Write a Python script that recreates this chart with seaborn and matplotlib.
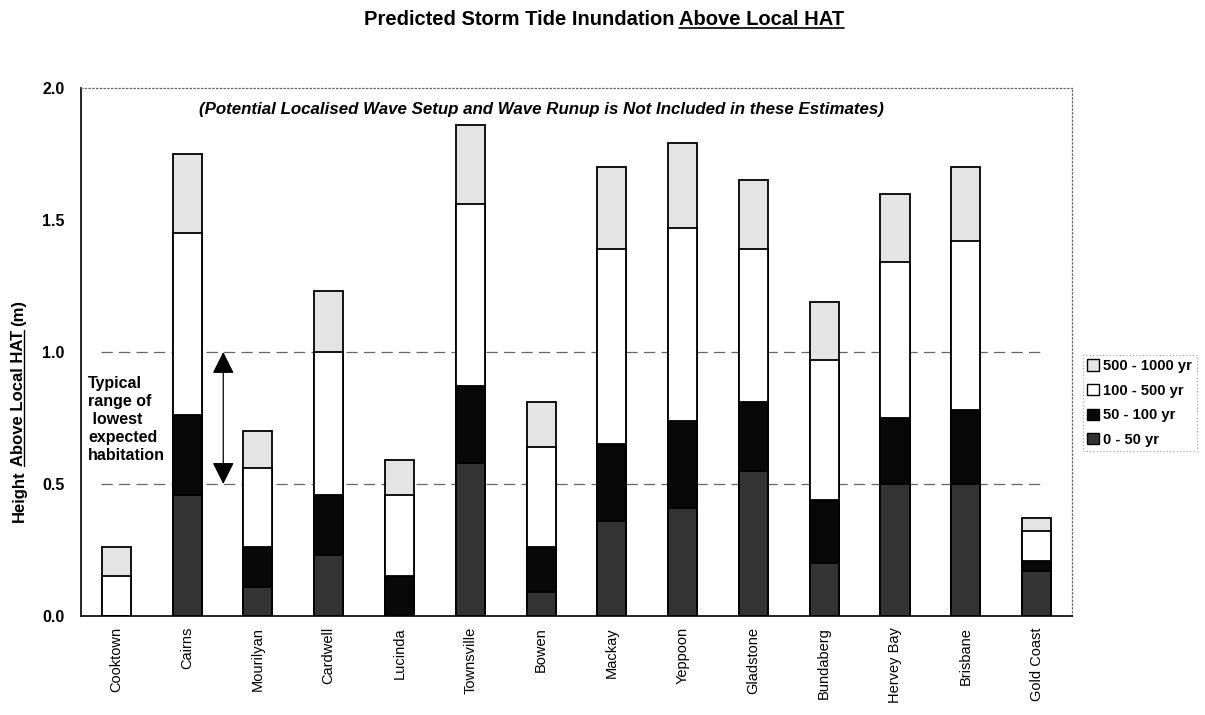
import matplotlib
matplotlib.use("Agg")
import matplotlib.pyplot as plt
import matplotlib.patches as mpatches
from matplotlib.lines import Line2D
from matplotlib.ticker import FixedLocator
import seaborn as sns

# Storm tide heights above local HAT (m) per return period
sites = ["Cooktown", "Cairns", "Mourilyan", "Cardwell", "Lucinda", "Townsville",
         "Bowen", "Mackay", "Yeppoon", "Gladstone", "Bundaberg", "Hervey Bay",
         "Brisbane", "Gold Coast"]
h_50yr = [0.00, 0.46, 0.11, 0.23, 0.00, 0.58, 0.09, 0.36, 0.41, 0.55, 0.20, 0.50, 0.50, 0.17]
h_100yr = [0.00, 0.76, 0.26, 0.46, 0.15, 0.87, 0.26, 0.65, 0.74, 0.81, 0.44, 0.75, 0.78, 0.21]
h_500yr = [0.15, 1.45, 0.56, 1.00, 0.46, 1.56, 0.64, 1.39, 1.47, 1.39, 0.97, 1.34, 1.42, 0.32]
h_1000yr = [0.26, 1.75, 0.70, 1.23, 0.59, 1.86, 0.81, 1.70, 1.79, 1.65, 1.19, 1.60, 1.70, 0.37]

bands = ["0 - 50 yr", "50 - 100 yr", "100 - 500 yr", "500 - 1000 yr"]
band_colors = ["#333333", "#080808", "#ffffff", "#e4e4e4"]

sns.set_style("white")
plt.rcParams["font.family"] = ["Liberation Sans", "DejaVu Sans"]
plt.rcParams.update({"text.color": "black", "axes.labelcolor": "black",
                     "xtick.color": "black", "ytick.color": "black"})

fig = plt.figure(figsize=(12.05, 7.15), dpi=100)
ax = fig.add_axes([0.0672, 0.1385, 0.8224, 0.7385])

# stacked bars drawn as overlapping cumulative layers, tallest first
layers = [h_1000yr, h_500yr, h_100yr, h_50yr]
for vals, col in zip(layers, band_colors[::-1]):
    sns.barplot(x=sites, y=vals, color=col, saturation=1, width=0.41,
                edgecolor="black", linewidth=1.3, ax=ax, zorder=3)

ax.set_xlim(-0.5, len(sites) - 0.5)
ax.set_ylim(0, 2.0)
ax.set_yticks([0.0, 0.5, 1.0, 1.5, 2.0])
ax.set_yticklabels(["0.0", "0.5", "1.0", "1.5", "2.0"], fontsize=11.5, fontweight="bold")
ax.set_xticks(range(len(sites)))
ax.set_xticklabels(sites, rotation=90, fontsize=10.5)
ax.xaxis.set_minor_locator(FixedLocator([i + 0.5 for i in range(len(sites) - 1)]))
ax.tick_params(axis="x", which="major", length=0, pad=8)
ax.tick_params(axis="x", which="minor", direction="inout", length=8, width=0.9, color="black")
ax.tick_params(axis="y", which="major", direction="out", length=4, width=0.9, color="black", pad=8)
ax.set_xlabel("")
ax.set_ylabel("")

for h in [0.5, 1.0]:
    ax.axhline(h, xmin=0.02, xmax=0.97, color="#666666", lw=0.9, ls=(0, (9, 5)), zorder=1)

ax.spines["left"].set_color("black")
ax.spines["bottom"].set_color("black")
ax.spines["left"].set_linewidth(1.2)
ax.spines["bottom"].set_linewidth(1.2)
for s in ["top", "right"]:
    ax.spines[s].set_color("#666666")
    ax.spines[s].set_linewidth(0.9)
    ax.spines[s].set_linestyle((0, (1, 2)))

ax.text(6.0, 1.92,
        "(Potential Localised Wave Setup and Wave Runup is Not Included in these Estimates)",
        ha="center", va="center", fontsize=12.2, fontweight="bold", fontstyle="italic", zorder=5)

ax.text(-0.4, 0.745, "Typical\nrange of\n lowest\nexpected\nhabitation",
        ha="left", va="center", fontsize=11.5, fontweight="bold", linespacing=1.25, zorder=5)
ax.annotate("", xy=(1.51, 0.5), xytext=(1.51, 1.0),
            arrowprops=dict(arrowstyle="<|-|>", mutation_scale=34, lw=0.9,
                            color="black", shrinkA=0, shrinkB=0), zorder=5)

handles = [mpatches.Patch(facecolor=c, edgecolor="black", lw=1.0, label=b)
           for b, c in zip(bands, band_colors)]
leg = fig.legend(handles=handles[::-1], loc="upper left", bbox_to_anchor=(0.896, 0.508),
                 frameon=True, prop={"size": 10.6, "weight": "bold"},
                 handlelength=0.8, handleheight=0.8, handletextpad=0.3,
                 labelspacing=0.72, borderpad=0.3, borderaxespad=0.2, fancybox=False)
leg.get_frame().set_edgecolor("#888888")
leg.get_frame().set_linewidth(0.8)
leg.get_frame().set_linestyle((0, (1, 2)))

# title and y-label with underlined parts
renderer = fig.canvas.get_renderer()
W, H = fig.bbox.width, fig.bbox.height


def text_width(t):
    return t.get_window_extent(renderer).width


title_size = 14.5
t1 = fig.text(0, 0, "Predicted Storm Tide Inundation", fontsize=title_size, fontweight="bold", va="baseline")
t2 = fig.text(0, 0, "Above Local HAT", fontsize=title_size, fontweight="bold", va="baseline")
space = 0.28 * title_size
total = text_width(t1) + space + text_width(t2)
x0 = 604 - total / 2
ybase = 715 - 25
t1.set_position((x0 / W, ybase / H))
x2 = x0 + text_width(t1) + space
t2.set_position((x2 / W, ybase / H))
fig.add_artist(Line2D([x2 / W, (x2 + text_width(t2)) / W], [(ybase - 2.5) / H] * 2,
                      transform=fig.transFigure, color="black", lw=1.2))

yc = 715 - 398
xl = 19
mid = fig.text(xl / W, yc / H, "Above Local HAT", rotation=90, fontsize=12,
               fontweight="bold", ha="center", va="center")
bb = mid.get_window_extent(renderer)
fig.text(xl / W, (bb.y0 - 4) / H, "Height", rotation=90, fontsize=12,
         fontweight="bold", ha="center", va="top")
fig.text(xl / W, (bb.y1 + 4) / H, "(m)", rotation=90, fontsize=12,
         fontweight="bold", ha="center", va="bottom")
ux = bb.x1 - 3
fig.add_artist(Line2D([ux / W] * 2, [bb.y0 / H, bb.y1 / H],
                      transform=fig.transFigure, color="black", lw=1.0))

fig.savefig("out.png", dpi=100)
